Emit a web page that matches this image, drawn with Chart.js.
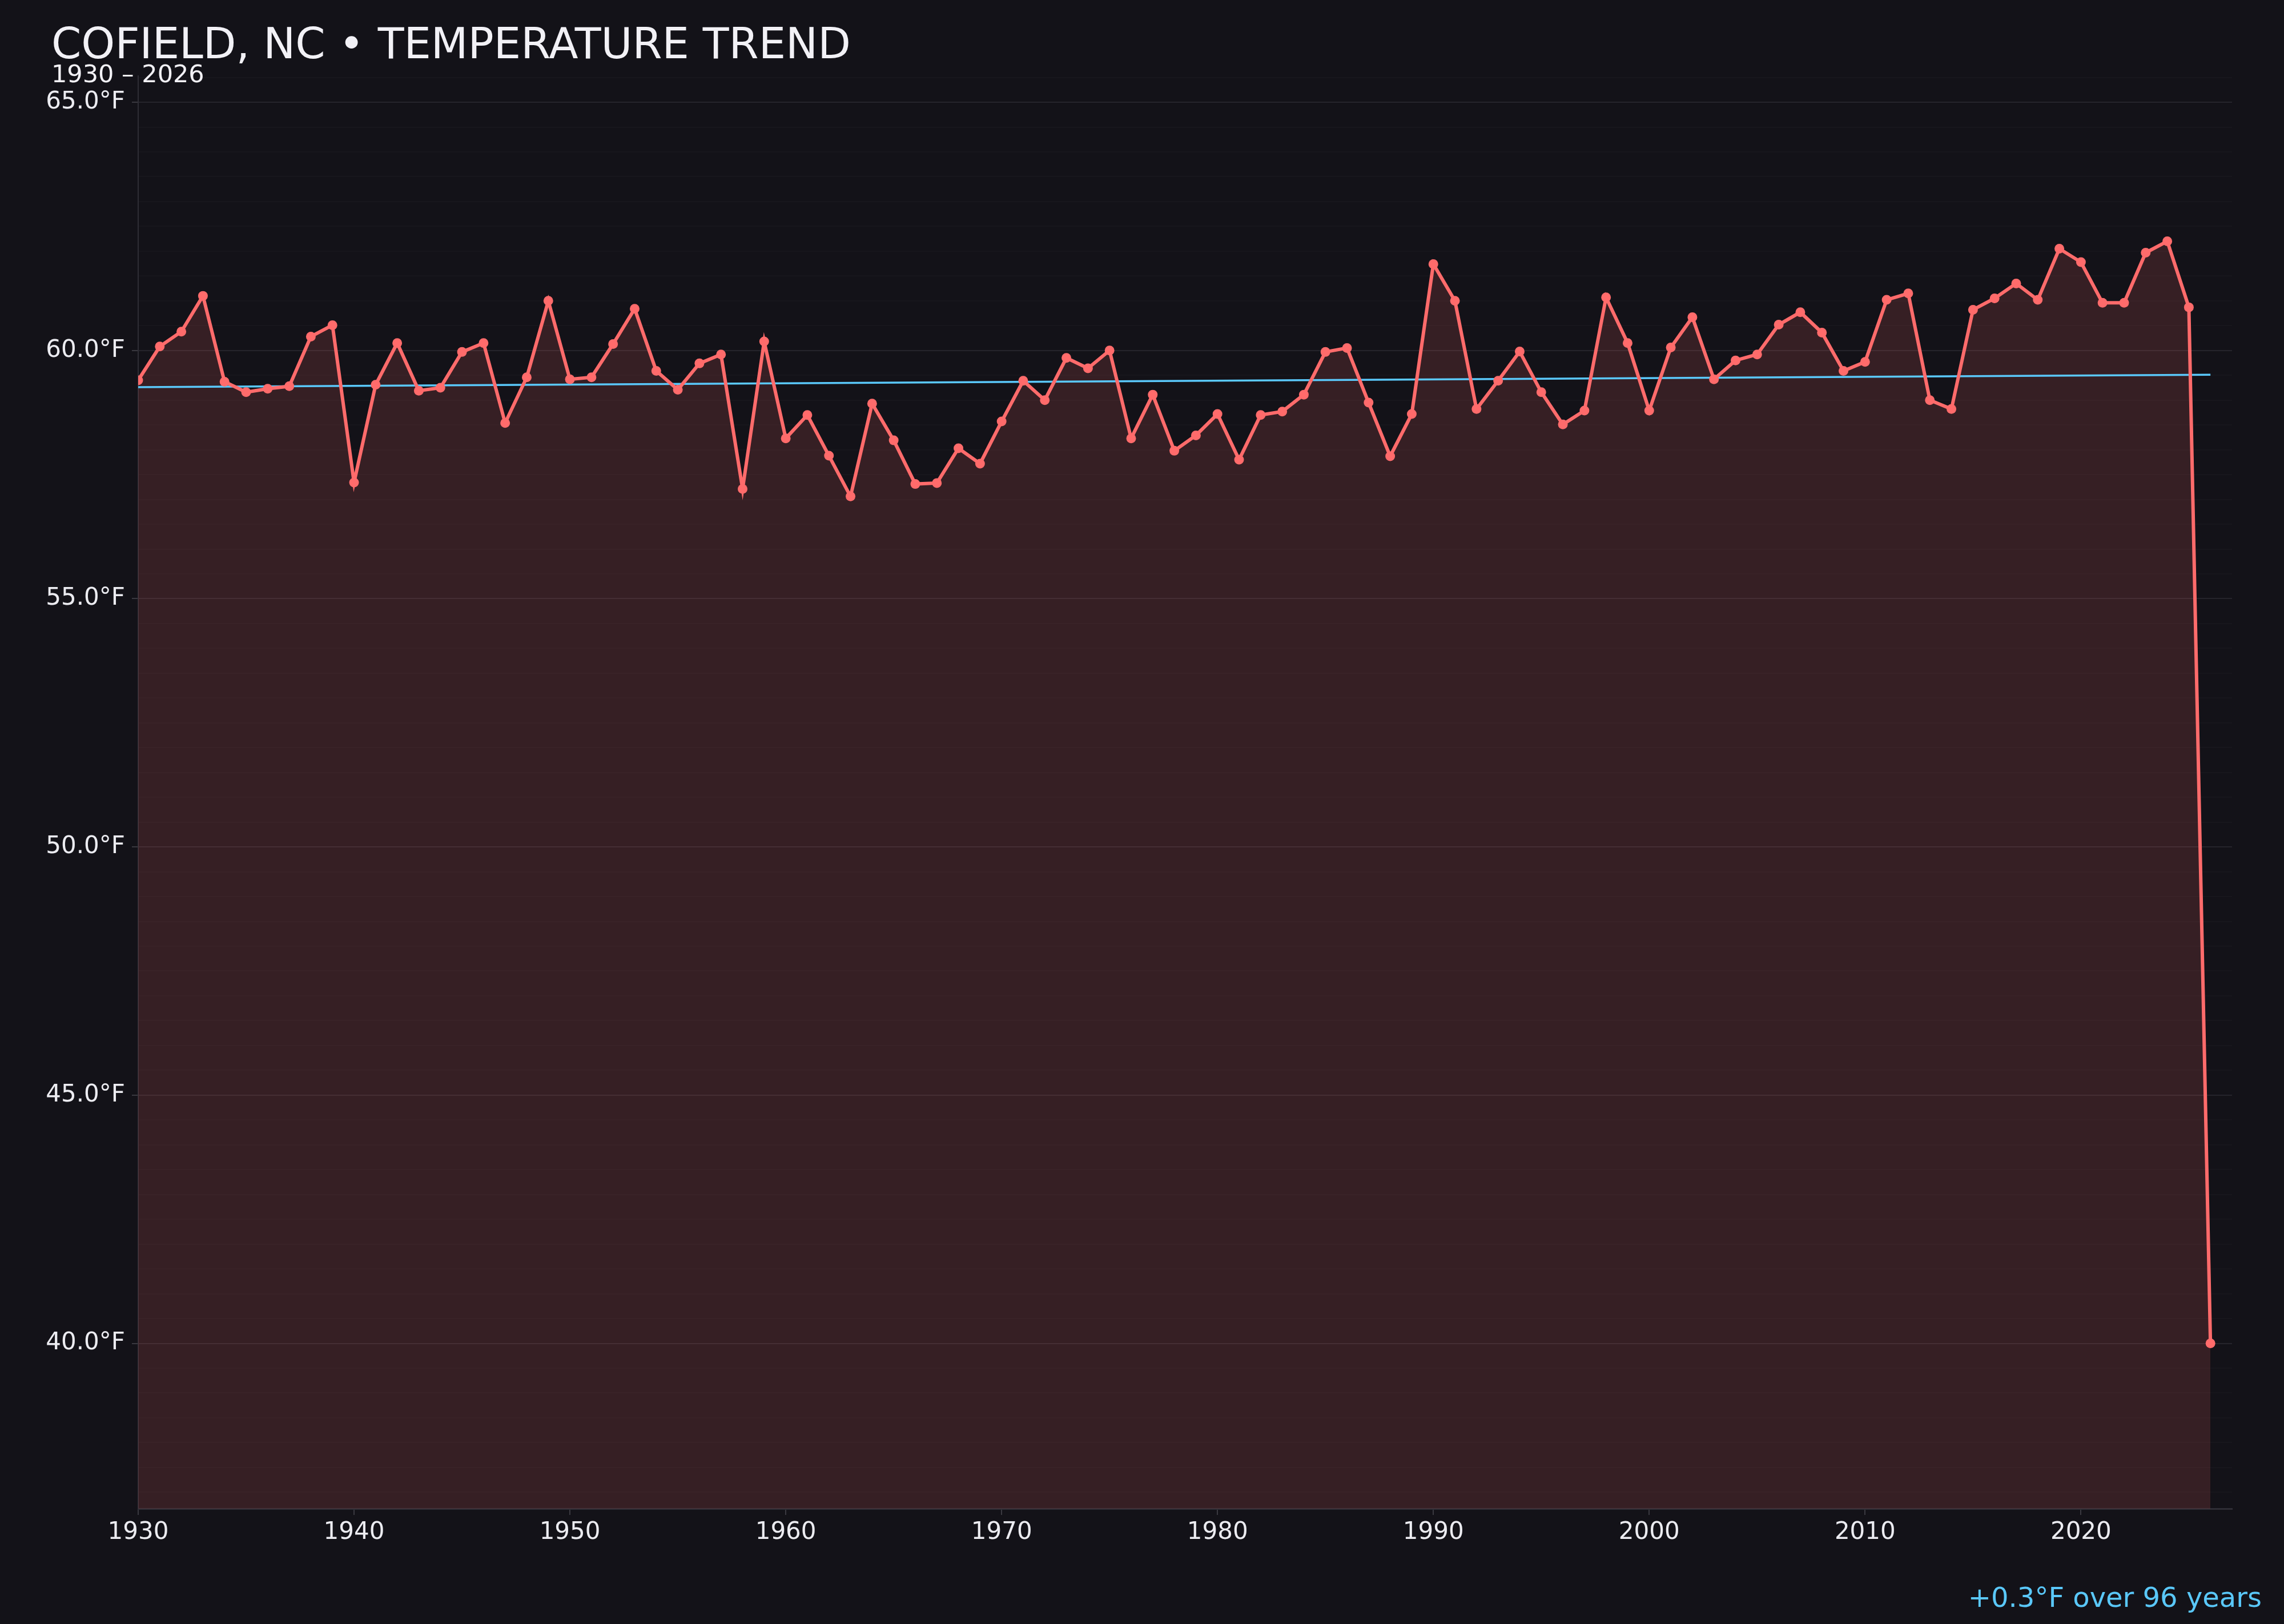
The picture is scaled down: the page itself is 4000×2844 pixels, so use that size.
<!DOCTYPE html>
<html>
<head>
<meta charset="utf-8">
<title>Cofield, NC temperature trend</title>
<script src="https://cdn.jsdelivr.net/npm/chart.js@4.4.1/dist/chart.umd.min.js"></script>
<style>
  html, body { margin: 0; padding: 0; background: #131218; }
  #wrap { width: 4000px; height: 2844px; position: relative; }
  canvas { display: block; }
</style>
</head>
<body>
<div id="wrap"><canvas id="trend-chart" width="4000" height="2844"></canvas></div>
<script>
// annual mean temperature
const years = [
  1930, 1931, 1932, 1933, 1934, 1935, 1936, 1937, 1938, 1939,
  1940, 1941, 1942, 1943, 1944, 1945, 1946, 1947, 1948, 1949,
  1950, 1951, 1952, 1953, 1954, 1955, 1956, 1957, 1958, 1959,
  1960, 1961, 1962, 1963, 1964, 1965, 1966, 1967, 1968, 1969,
  1970, 1971, 1972, 1973, 1974, 1975, 1976, 1977, 1978, 1979,
  1980, 1981, 1982, 1983, 1984, 1985, 1986, 1987, 1988, 1989,
  1990, 1991, 1992, 1993, 1994, 1995, 1996, 1997, 1998, 1999,
  2000, 2001, 2002, 2003, 2004, 2005, 2006, 2007, 2008, 2009,
  2010, 2011, 2012, 2013, 2014, 2015, 2016, 2017, 2018, 2019,
  2020, 2021, 2022, 2023, 2024, 2025, 2026
];
const temps = [
  59.40, 60.08, 60.38, 61.10, 59.37, 59.16, 59.23, 59.28, 60.28, 60.51,
  57.34, 59.31, 60.15, 59.19, 59.25, 59.97, 60.15, 58.54, 59.46, 61.00,
  59.42, 59.46, 60.13, 60.84, 59.59, 59.21, 59.74, 59.92, 57.21, 60.18,
  58.23, 58.70, 57.88, 57.06, 58.93, 58.19, 57.31, 57.33, 58.03, 57.72,
  58.57, 59.39, 59.00, 59.85, 59.64, 60.00, 58.23, 59.11, 57.98, 58.29,
  58.72, 57.80, 58.70, 58.77, 59.11, 59.97, 60.05, 58.95, 57.87, 58.72,
  61.74, 61.00, 58.82, 59.39, 59.98, 59.16, 58.51, 58.79, 61.07, 60.15,
  58.79, 60.06, 60.67, 59.42, 59.80, 59.92, 60.52, 60.77, 60.36, 59.59,
  59.77, 61.02, 61.15, 59.00, 58.82, 60.82, 61.05, 61.35, 61.02, 62.05,
  61.78, 60.96, 60.96, 61.97, 62.20, 60.87, 40.00
];
// trend line end points
const trendYears = [1930, 2026];
const trendTemps = [59.26, 59.51];

const titleText = 'COFIELD, NC \u2022 TEMPERATURE TREND';
const subtitleText = '1930 \u2013 2026';
const footerText = '+0.3\u00B0F over 96 years';

const COLORS = {
  bg: '#131218',
  line: '#ff6b6b',
  fill: 'rgba(255, 107, 107, 0.15)',
  trend: '#5ac8fa',
  text: '#ececf1',
  gridMajor: '#25242b',
  gridMinor: '#17161c',
  axis: '#2e2d35'
};
const FONT = '"DejaVu Sans", sans-serif';

function isMajor(v) {
  return Math.abs(v / 5 - Math.round(v / 5)) < 1e-6;
}

// background + title / subtitle / footer text
const decorPlugin = {
  id: 'decor',
  beforeDraw(chart) {
    const ctx = chart.ctx;
    ctx.save();
    ctx.fillStyle = COLORS.bg;
    ctx.fillRect(0, 0, chart.width, chart.height);
    ctx.restore();
  },
  afterDraw(chart) {
    const ctx = chart.ctx;
    ctx.save();
    ctx.textBaseline = 'alphabetic';
    ctx.fillStyle = '#f2f1f6';
    ctx.textAlign = 'left';
    ctx.font = '75px ' + FONT;
    ctx.fillText(titleText, 90, 102);
    ctx.font = '43px ' + FONT;
    ctx.fillText(subtitleText, 90, 144);
    ctx.fillStyle = COLORS.trend;
    ctx.textAlign = 'right';
    ctx.font = '48px ' + FONT;
    ctx.fillText(footerText, 3961, 2814);
    ctx.restore();
  }
};

const ctx = document.getElementById('trend-chart').getContext('2d');
new Chart(ctx, {
  type: 'line',
  data: {
    datasets: [
      {
        label: 'Annual mean',
        data: years.map((y, i) => ({ x: y, y: temps[i] })),
        borderColor: COLORS.line,
        backgroundColor: COLORS.fill,
        borderWidth: 6,
        fill: 'start',
        tension: 0,
        pointRadius: 8.5,
        pointBackgroundColor: COLORS.line,
        pointBorderWidth: 0,
        order: 0
      },
      {
        label: 'Trend',
        data: trendYears.map((y, i) => ({ x: y, y: trendTemps[i] })),
        borderColor: COLORS.trend,
        borderWidth: 3.5,
        fill: false,
        pointRadius: 0,
        order: 1
      }
    ]
  },
  options: {
    responsive: false,
    animation: false,
    devicePixelRatio: 1,
    layout: { padding: { top: 133, right: 91, left: 0, bottom: 0 } },
    plugins: {
      legend: { display: false },
      tooltip: { enabled: false },
      filler: { drawTime: 'beforeDatasetsDraw' }
    },
    scales: {
      x: {
        type: 'linear',
        min: 1930,
        max: 2027,
        afterFit(scale) { scale.height = 202; },
        grid: {
          drawOnChartArea: false,
          tickLength: 11,
          tickColor: '#3a3940',
          lineWidth: 2
        },
        border: { color: COLORS.axis, width: 3 },
        ticks: {
          stepSize: 10,
          includeBounds: false,
          autoSkip: false,
          maxRotation: 0,
          padding: 6,
          color: COLORS.text,
          font: { family: FONT, size: 42 },
          callback: v => String(v)
        }
      },
      y: {
        min: 36.67,
        max: 65.53,
        afterFit(scale) { scale.width = 242; },
        grid: {
          color: c => (c.tick && isMajor(c.tick.value)) ? COLORS.gridMajor : COLORS.gridMinor,
          tickColor: c => (c.tick && isMajor(c.tick.value)) ? '#3a3940' : 'rgba(0,0,0,0)',
          tickLength: 11,
          lineWidth: 2
        },
        border: { color: COLORS.axis, width: 2 },
        ticks: {
          stepSize: 0.5,
          maxTicksLimit: 200,
          includeBounds: false,
          autoSkip: false,
          padding: 12,
          color: COLORS.text,
          font: { family: FONT, size: 42 },
          callback: v => isMajor(v) ? v.toFixed(1) + '\u00B0F' : ''
        }
      }
    }
  },
  plugins: [decorPlugin]
});
</script>
</body>
</html>
